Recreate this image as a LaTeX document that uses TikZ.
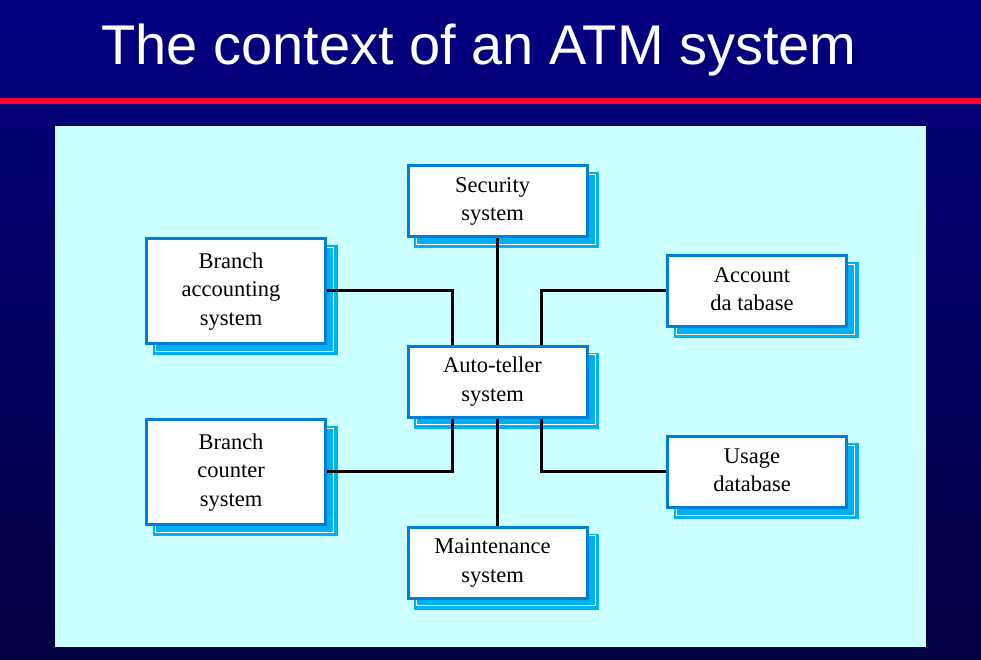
\documentclass[tikz,border=0pt]{standalone}
\usepackage{fontspec}
\setmainfont{Liberation Serif}
\newfontfamily\titlefont{Liberation Sans}
\usetikzlibrary{calc}
\pgfdeclarelayer{bg}
\pgfdeclarelayer{shadow}
\pgfsetlayers{bg,shadow,main}
\definecolor{navytop}{RGB}{4,0,128}
\definecolor{navybot}{RGB}{3,0,66}
\definecolor{titlered}{RGB}{255,0,48}
\definecolor{panelcyan}{RGB}{204,255,255}
\definecolor{boxblue}{RGB}{0,128,212}
\definecolor{shadowcyan}{RGB}{0,176,240}
\newcommand{\boxtext}[1]{\kern-10pt\begin{tabular}{@{}c@{}}#1\end{tabular}}
\tikzset{
  sysbox/.style={draw=boxblue, line width=3pt, fill=white, minimum width=179pt,
    minimum height=71pt, inner sep=0pt,
    font=\fontsize{22.5}{28.5}\selectfont, text=black},
  tallbox/.style={sysbox, minimum height=105pt},
  link/.style={draw=black, line width=3pt},
}
\newcommand{\boxshadow}[1]{%
  \fill[shadowcyan] ($(#1.north west)+(7.5,8)$) rectangle ($(#1.south east)+(10.5,10)$);
  \draw[white, line width=0.9pt] ($(#1.north west)+(10,10)$) rectangle ($(#1.south east)+(6.5,6)$);
}
\begin{document}
\begin{tikzpicture}[x=1pt,y=-1pt]
\useasboundingbox (0,0) rectangle (981,660);
\begin{pgfonlayer}{bg}
  \shade[top color=navytop, bottom color=navybot] (0,0) rectangle (981,660);
  \fill[titlered] (0,98) rectangle (981,104);
  \fill[panelcyan] (55,126) rectangle (926,647);
\end{pgfonlayer}
\node[anchor=base, text=white, inner sep=0pt, font=\titlefont\fontsize{56}{60}\selectfont] (title) at (479,65) {The context of an ATM system};

\node[sysbox] (sec) at (497.5,201) {\boxtext{Security\\system}};
\node[tallbox] (bacc) at (236,291) {\boxtext{Branch\\accounting\\system}};
\node[sysbox] (adb) at (757,291) {\boxtext{Account\\da tabase}};
\node[sysbox] (atm) at (497.5,381.5) {\boxtext{Auto-teller\\system}};
\node[tallbox] (bctr) at (236,472) {\boxtext{Branch\\counter\\system}};
\node[sysbox] (udb) at (757,472) {\boxtext{Usage\\database}};
\node[sysbox] (mnt) at (497.5,562.5) {\boxtext{Maintenance\\system}};

\begin{pgfonlayer}{shadow}
  \boxshadow{sec}
  \boxshadow{bacc}
  \boxshadow{adb}
  \boxshadow{atm}
  \boxshadow{bctr}
  \boxshadow{udb}
  \boxshadow{mnt}
\end{pgfonlayer}

\coordinate (atmL) at ($(atm.north)+(-45.5,0)$);
\coordinate (atmR) at ($(atm.north)+(44,0)$);
\coordinate (atmLb) at ($(atm.south)+(-45.5,0)$);
\coordinate (atmRb) at ($(atm.south)+(44,0)$);
\draw[link] (sec.south) -- (atm.north);
\draw[link] (atm.south) -- (mnt.north);
\draw[link] ($(bacc.east)+(0,-1)$) -| (atmL);
\draw[link] ($(adb.west)+(0,-1)$) -| (atmR);
\draw[link] ($(bctr.east)+(0,-1)$) -| (atmLb);
\draw[link] ($(udb.west)+(0,-1)$) -| (atmRb);
\end{tikzpicture}
\end{document}
